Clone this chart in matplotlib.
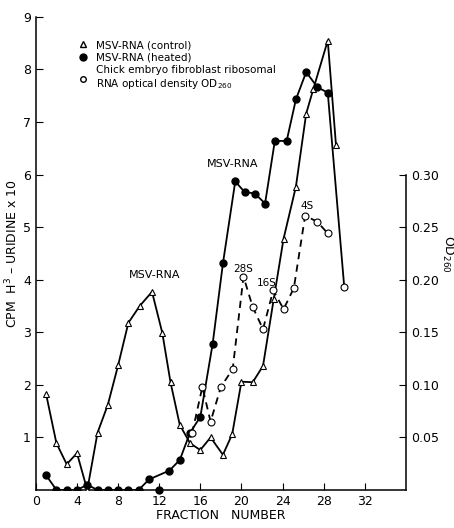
import numpy as np
import matplotlib
matplotlib.use('Agg')
import matplotlib.pyplot as plt
from matplotlib.lines import Line2D

# MSV-RNA control (open triangles)
ctrl_x = [1, 2, 3, 4, 5, 6, 7, 8, 9, 10.1, 11.3, 12.3, 13.1, 14, 15, 16, 17, 18.2,
          19.1, 20, 21.1, 22.1, 23.15, 24.1, 25.3, 26.3, 27, 28.4, 29.2]
ctrl_y = [1.82, 0.89, 0.49, 0.70, 0.0, 1.09, 1.62, 2.37, 3.18, 3.5, 3.77, 2.99,
          2.05, 1.24, 0.89, 0.76, 1.0, 0.67, 1.06, 2.06, 2.05, 2.36, 3.64, 4.78,
          5.77, 7.16, 7.63, 8.55, 6.56]

# MSV-RNA heated (filled circles)
heat_x = [1, 2, 3, 4, 5, 6, 7, 8, 9, 10, 11, 13, 14, 15, 16, 17.2, 18.2, 19.4,
          20.3, 21.3, 22.3, 23.25, 24.4, 25.3, 26.3, 27.4, 28.4, 30]
heat_y = [0.28, 0, 0, 0, 0.1, 0, 0, 0, 0, 0, 0.2, 0.37, 0.57, 1.09, 1.39, 2.78,
          4.31, 5.87, 5.67, 5.64, 5.45, 6.64, 6.64, 7.43, 7.95, 7.66, 7.56, 3.87]
stray_x = [12]
stray_y = [0]

# chick embryo ribosomal RNA, OD260 (open circles, dashed)
od_x = [15.2, 16.2, 17, 18, 19.15, 20.2, 21.1, 22.1, 23.1, 24.1, 25.1, 26.2, 27.4, 28.4]
od_y = [0.054, 0.098, 0.065, 0.098, 0.115, 0.203, 0.174, 0.153, 0.19, 0.172,
        0.192, 0.261, 0.255, 0.244]

xticks = [0, 4, 8, 12, 16, 20, 24, 28, 32]
yticks = [1, 2, 3, 4, 5, 6, 7, 8, 9]
odticks = [0.05, 0.10, 0.15, 0.20, 0.25, 0.30]

plt.rcParams['font.family'] = ['DejaVu Sans']
fig = plt.figure(figsize=(4.54, 5.28), dpi=100)
ax = fig.add_axes([0.079, 0.072, 0.815, 0.896])
ax2 = ax.twinx()

k = 'black'
lw = 1.3
ax.plot(ctrl_x, ctrl_y, '-', color=k, lw=lw, marker='^', ms=4,
        mfc='white', mec=k, mew=0.8, zorder=3)
ax.plot(heat_x[:-1], heat_y[:-1], '-', color=k, lw=lw, marker='o', ms=5,
        mfc=k, mec=k, zorder=3)
ax.plot(heat_x[-2:], heat_y[-2:], '-', color=k, lw=lw, zorder=2)
ax.plot(heat_x[-1:], heat_y[-1:], 'o', ms=5, mfc='white', mec=k, mew=0.8, zorder=4)
ax.plot(stray_x, stray_y, 'o', ms=5, color=k, zorder=3, clip_on=False)

ax2.plot(od_x, od_y, color=k, lw=lw, dashes=(4, 3), marker='o', ms=5,
         mfc='white', mec=k, mew=0.8, zorder=3)

ax.set_xlim(0, 36)
ax.set_ylim(0, 9)
ax2.set_ylim(0, 0.45)

ax.set_xticks(xticks)
ax.set_yticks(yticks)
ax2.set_yticks(odticks)
ax2.set_yticklabels(['0.05', '0.10', '0.15', '0.20', '0.25', '0.30'])
ax.tick_params(direction='in', length=5, labelsize=9)
ax2.tick_params(direction='in', length=5, labelsize=9)

for a in (ax, ax2):
    a.spines['top'].set_visible(False)
    for s in a.spines.values():
        s.set_linewidth(1.1)
ax.spines['right'].set_visible(False)
ax2.spines['left'].set_visible(False)
ax2.spines['bottom'].set_visible(False)
ax2.spines['right'].set_bounds(0, 0.30)

ax.set_xlabel('FRACTION   NUMBER', fontsize=9, labelpad=1)
ax.set_ylabel('CPM  H$^3$ – URIDINE x 10', fontsize=9, labelpad=2)
ax2.set_ylabel('OD$_{260}$', fontsize=9, rotation=270, labelpad=12)

ax.text(11.6, 4.0, 'MSV-RNA', fontsize=8, ha='center', va='bottom')
ax.text(19.1, 6.1, 'MSV-RNA', fontsize=8, ha='center', va='bottom')
ax.text(20.2, 4.1, '28S', fontsize=7.5, ha='center', va='bottom')
ax.text(22.5, 3.85, '16S', fontsize=7.5, ha='center', va='bottom')
ax.text(26.4, 5.3, '4S', fontsize=7.5, ha='center', va='bottom')

handles = [
    Line2D([], [], ls='none', marker='^', ms=4, mfc='white', mec=k),
    Line2D([], [], ls='none', marker='o', ms=5, mfc=k, mec=k),
    Line2D([], [], ls='none', marker='o', ms=4, mfc='white', mec=k),
]
labels = ['MSV-RNA (control)', 'MSV-RNA (heated)',
          'Chick embryo fibroblast ribosomal\nRNA optical density OD$_{260}$']
ax.legend(handles, labels, loc='upper left', bbox_to_anchor=(0.1, 0.962),
          frameon=False, fontsize=7.5, handlelength=1.0, handletextpad=0.7,
          labelspacing=0.25, borderpad=0)

fig.savefig('out.png', dpi=100)
